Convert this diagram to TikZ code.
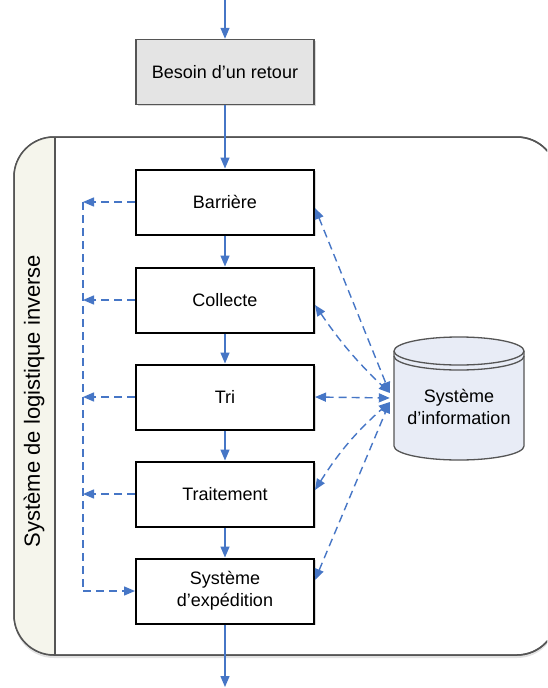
\documentclass[tikz,border=0pt]{standalone}
\usepackage{fontspec}
\setmainfont{Liberation Sans}
\usepackage{xcolor}
\usepackage{tikz}
\usetikzlibrary{arrows.meta,shadows}

\definecolor{bleu}{RGB}{70,118,198}
\definecolor{cadregris}{RGB}{85,85,85}
\definecolor{bande}{RGB}{245,245,236}
\definecolor{grisclair}{RGB}{228,228,228}
\definecolor{bleupale}{RGB}{232,236,246}

\begin{document}
\begin{tikzpicture}[x=1pt, y=-1pt, >={Triangle[length=11pt,width=9pt]},
  etape/.style={draw=black, line width=2pt, fill=white, minimum width=178pt,
    minimum height=65pt, align=center, font=\fontsize{18}{22}\selectfont,
    drop shadow={shadow xshift=1.5pt, shadow yshift=-1.5pt, opacity=.3}},
  flux/.style={->, draw=bleu, line width=1.4pt},
  retour/.style={->, draw=bleu, line width=1.4pt, dash pattern=on 8pt off 5pt}]
\useasboundingbox (0,0) rectangle (547,688);
\clip (0,0) rectangle (547,688);

% cadre du systeme
\filldraw [draw=cadregris, line width=1.5pt, fill=white, rounded corners=40,
  drop shadow={shadow xshift=0pt, shadow yshift=-3pt, fill=gray!45}] (14,137) rectangle (557,655);
\begin{scope}
 \clip (0,0) rectangle (55,688);
 \fill [bande, rounded corners=40] (14,137) rectangle (557,655);
\end{scope}
\draw [cadregris, line width=1.5pt, rounded corners=40] (14,137) rectangle (557,655);
\draw [cadregris, line width=1.5pt] (55,137) -- (55,655);
\node [rotate=90, font=\fontsize{22}{26}\selectfont] (titre) at (34,401) {Système de logistique inverse};

% etapes
\node [etape, fill=grisclair, draw=cadregris, line width=1.5pt] (besoin) at (225,72) {Besoin d'un retour};
\foreach \nom/\texte/\y in {barriere/Barrière/202, collecte/Collecte/300, tri/Tri/397,
  traitement/Traitement/494, expedition/{Système\\d'expédition}/591}
 { \node [etape] (\nom) at (225,\y) {\texte} ; }

\coordinate (entree) at (225,0) ;
\coordinate (sortie) at (225,687) ;
\draw [flux] (entree) -- (besoin) ;
\draw [flux] (besoin) -- (barriere) ;
\draw [flux] (barriere) -- (collecte) ;
\draw [flux] (collecte) -- (tri) ;
\draw [flux] (tri) -- (traitement) ;
\draw [flux] (traitement) -- (expedition) ;
\draw [flux] (expedition) -- (sortie) ;

% retours a gauche
\coordinate (coin) at (83,591) ;
\foreach \nom in {barriere, collecte, tri, traitement}
 { \draw [retour] (\nom.west) -- (\nom.west -| coin) ; }
\draw [retour, -] (barriere.west -| coin) -- (coin) ;
\draw [retour] (coin) -- (expedition.west) ;

% systeme d'information
\node [minimum width=130pt, minimum height=96pt] (si) at (459,398) {} ;
\filldraw [draw=cadregris, line width=1.3pt, fill=bleupale] (394,351) -- (394,446)
  arc [start angle=180, end angle=0, x radius=65, y radius=14] -- (524,351)
  arc [start angle=0, end angle=-180, x radius=65, y radius=14] -- cycle ;
\draw [cadregris, line width=1.3pt] (394,351) arc [start angle=180, end angle=0, x radius=65, y radius=14] ;
\draw [cadregris, line width=1.3pt] (394,356) arc [start angle=180, end angle=0, x radius=65, y radius=14] ;
\node [align=center, font=\fontsize{18}{22}\selectfont] (sitexte) at (459,407) {Système\\d'information} ;

\coordinate (sihaut) at ([xshift=-4pt, yshift=5pt]si.west) ;
\coordinate (similieu) at ([xshift=-4pt]si.west) ;
\coordinate (sibas) at ([xshift=-4pt, yshift=-4pt]si.west) ;
\draw [retour, <->] ([yshift=-6pt]barriere.east) -- (sihaut) ;
\draw [retour, <->] ([yshift=-5pt]collecte.east) to [bend right=6] (sihaut) ;
\draw [retour, <->] (tri.east) -- (similieu) ;
\draw [retour, <->] ([yshift=4pt]traitement.east) to [bend left=8] (sibas) ;
\draw [retour, <->] ([yshift=11pt]expedition.east) -- (sibas) ;
\end{tikzpicture}
\end{document}
